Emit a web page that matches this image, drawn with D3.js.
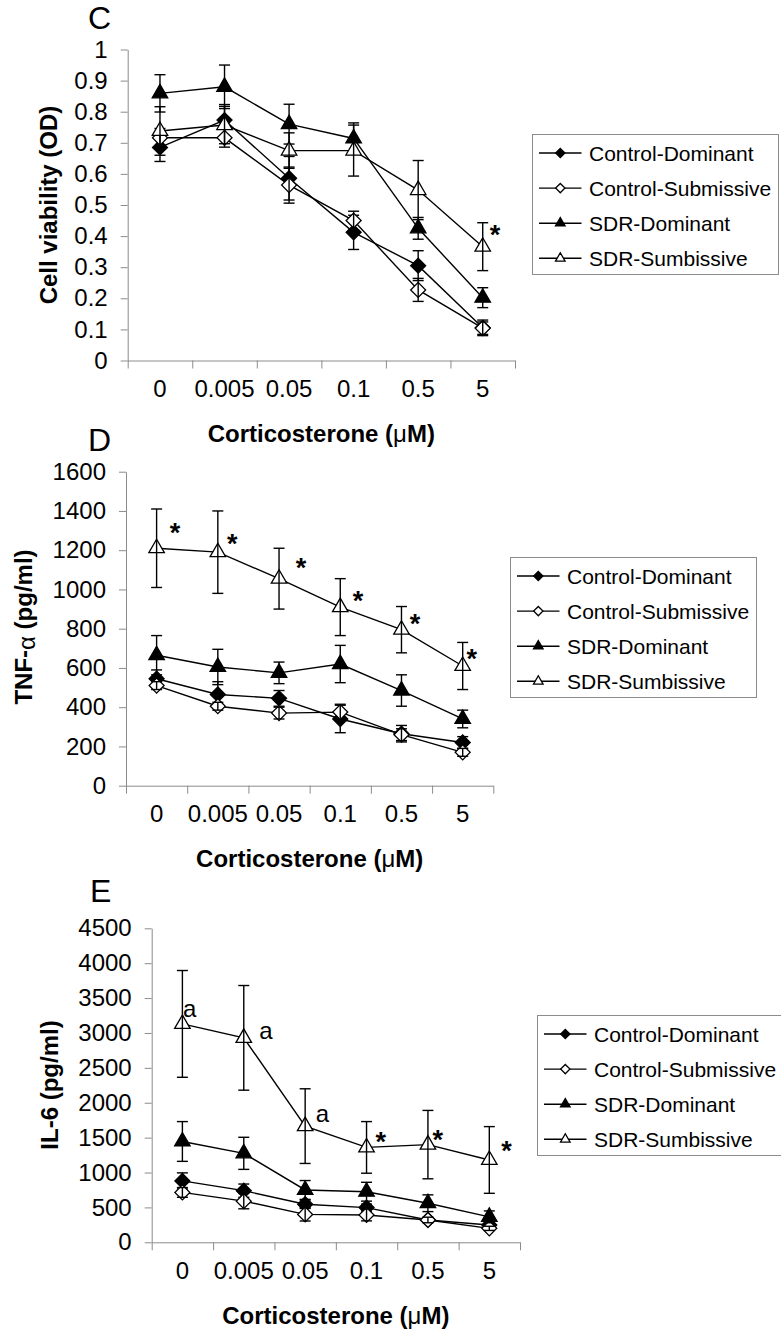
<!DOCTYPE html>
<html>
<head>
<meta charset="utf-8">
<style>
  body { margin: 0; background: #fff; }
  svg { display: block; }
</style>
</head>
<body>
<script src="https://cdn.jsdelivr.net/npm/d3@7"></script>
<script>
// Data
const doses = ["0", "0.005", "0.05", "0.1", "0.5", "5"];
const groups = ["Control-Dominant", "Control-Submissive", "SDR-Dominant", "SDR-Sumbissive"];
const shapes = ["diamond", "diamond", "triangle", "triangle"];
const filled = [true, false, true, false];

// C: cell viability (OD), mean and error per group
const viabilityMean = [
    [0.685, 0.773, 0.586, 0.412, 0.305, 0.105],
    [0.716, 0.716, 0.564, 0.450, 0.227, 0.104],
    [0.859, 0.880, 0.760, 0.714, 0.425, 0.202],
    [0.738, 0.757, 0.675, 0.675, 0.548, 0.366]
];
const viabilityErr = [
    [0.045, 0.050, 0.070, 0.055, 0.048, 0.025],
    [0.030, 0.030, 0.058, 0.030, 0.037, 0.020],
    [0.060, 0.070, 0.064, 0.050, 0.035, 0.032],
    [0.078, 0.060, 0.057, 0.082, 0.095, 0.077]
];
const viabilityTicks = [0, 0.1, 0.2, 0.3, 0.4, 0.5, 0.6, 0.7, 0.8, 0.9, 1];

// D: TNF-alpha (pg/ml)
const tnfMean = [
    [545, 465, 445, 340, 265, 220],
    [510, 405, 370, 375, 260, 170],
    [665, 605, 575, 620, 485, 340],
    [1210, 1190, 1055, 910, 795, 610]
];
const tnfErr = [
    [45, 65, 40, 70, 42, 30],
    [20, 20, 30, 40, 30, 20],
    [100, 90, 55, 95, 80, 45],
    [200, 210, 155, 145, 118, 120]
];
const tnfTicks = [0, 200, 400, 600, 800, 1000, 1200, 1400, 1600];

// E: IL-6 (pg/ml)
const il6Mean = [
    [880, 740, 545, 497, 320, 248],
    [715, 590, 400, 392, 320, 200],
    [1445, 1275, 750, 725, 560, 365],
    [3130, 2930, 1665, 1360, 1400, 1180]
];
const il6Err = [
    [115, 95, 60, 50, 30, 25],
    [70, 110, 95, 85, 40, 30],
    [285, 230, 135, 135, 120, 85],
    [765, 750, 535, 370, 490, 478]
];
const il6Ticks = [0, 500, 1000, 1500, 2000, 2500, 3000, 3500, 4000, 4500];

// significance marks: position in dose-index units and value units
const marksC = [{ at: 5.19, v: 0.422, t: "*" }];
const marksD = [
    { at: 0.30, v: 1320, t: "*" }, { at: 1.235, v: 1261, t: "*" }, { at: 2.36, v: 1141, t: "*" },
    { at: 3.29, v: 972, t: "*" }, { at: 4.22, v: 853, t: "*" }, { at: 5.15, v: 678, t: "*" }
];
const marksE = [
    { at: 0.12, v: 3319, t: "a" }, { at: 1.36, v: 2995, t: "a" }, { at: 2.28, v: 1810, t: "a" },
    { at: 3.23, v: 1523, t: "*" }, { at: 4.16, v: 1552, t: "*" }, { at: 5.28, v: 1394, t: "*" }
];

const font = "'Liberation Sans', Arial, sans-serif";
const axisGray = "#8c8c8c";

let svg = d3.select("body")
    .append("svg")
    .attr("width", 781)
    .attr("height", 1334)
    .style("font-family", font);

function drawPanel(p) {
    let x = d3.scaleBand().domain(doses).range([p.left, p.right]);
    let y = d3.scaleLinear().domain([0, p.yMax]).range([p.bottom, p.top]);
    let cx = (d) => x(d) + x.bandwidth() / 2;
    let at = d3.scaleLinear().domain([0, doses.length - 1])
        .range([cx(doses[0]), cx(doses[doses.length - 1])]);

    // panel letter
    svg.append("text").attr("x", p.letterX).attr("y", p.letterY)
        .attr("font-size", 32).text(p.letter);

    // y axis
    let gy = svg.append("g")
        .attr("transform", `translate(${p.left},0)`)
        .call(d3.axisLeft(y).tickValues(p.ticks).tickSize(7).tickPadding(13)
            .tickSizeOuter(0).tickFormat(d3.format("~g")));
    gy.select(".domain").attr("stroke", axisGray);
    gy.selectAll(".tick line").attr("stroke", axisGray);
    gy.selectAll(".tick text").attr("font-size", 24).attr("font-family", font).attr("fill", "#000");

    // x axis: marks between categories, labels under centres
    let xb = d3.scaleLinear().domain([0, doses.length]).range([p.left, p.right]);
    let gx = svg.append("g")
        .attr("transform", `translate(0,${p.bottom})`)
        .call(d3.axisBottom(xb).tickValues(d3.range(doses.length + 1))
            .tickFormat("").tickSize(8).tickSizeOuter(0));
    gx.select(".domain").attr("stroke", axisGray);
    gx.selectAll(".tick line").attr("stroke", axisGray);

    let gl = svg.append("g")
        .attr("transform", `translate(0,${p.bottom})`)
        .call(d3.axisBottom(x).tickSize(0).tickPadding(19.5));
    gl.select(".domain").remove();
    gl.selectAll(".tick text").attr("font-size", 24).attr("font-family", font).attr("fill", "#000");

    // axis titles
    let xt = svg.append("text")
        .attr("x", (p.left + p.right) / 2).attr("y", p.bottom + 81.5)
        .attr("text-anchor", "middle").attr("font-size", 24).attr("font-weight", "bold");
    xt.append("tspan").text("Corticosterone (");
    xt.append("tspan").attr("font-weight", "normal").text("\u03bc");
    xt.append("tspan").text("M)");

    let yt = svg.append("text")
        .attr("transform", `translate(${p.yTitleX},${p.yTitleY}) rotate(-90)`)
        .attr("text-anchor", "middle").attr("font-size", 24).attr("font-weight", "bold");
    p.yTitle.forEach((part) => {
        let ts = yt.append("tspan").text(part.t);
        if (part.normal) ts.attr("font-weight", "normal");
        if (part.dy) ts.attr("dy", part.dy);
    });

    // series
    groups.forEach((g, s) => {
        let pts = doses.map((d, i) => ({ d: d, v: p.means[s][i], e: p.errs[s][i] }));

        svg.append("path").datum(pts)
            .attr("d", d3.line().x((q) => cx(q.d)).y((q) => y(q.v)))
            .attr("fill", "none").attr("stroke", "#000").attr("stroke-width", 1.4);

        drawMarkers(pts.map((q) => [cx(q.d), y(q.v)]), s, 1);

        let eb = svg.append("g").selectAll("g").data(pts).enter().append("g")
            .attr("stroke", "#000").attr("stroke-width", 1.4);
        eb.append("line")
            .attr("x1", (q) => cx(q.d)).attr("x2", (q) => cx(q.d))
            .attr("y1", (q) => y(q.v - q.e)).attr("y2", (q) => y(q.v + q.e));
        [-1, 1].forEach((sign) => {
            eb.append("line")
                .attr("x1", (q) => cx(q.d) - 5.5).attr("x2", (q) => cx(q.d) + 5.5)
                .attr("y1", (q) => y(q.v + sign * q.e)).attr("y2", (q) => y(q.v + sign * q.e));
        });
    });

    // significance marks
    svg.append("g").selectAll("text").data(p.marks).enter().append("text")
        .attr("x", (m) => at(m.at))
        .attr("y", (m) => y(m.v) + (m.t === "*" ? 15 : 6))
        .attr("text-anchor", "middle")
        .attr("font-size", (m) => m.t === "*" ? 27 : 24)
        .attr("font-weight", (m) => m.t === "*" ? "bold" : "normal")
        .text((m) => m.t);

    // legend
    let lg = svg.append("g").attr("transform", `translate(${p.legendX},${p.legendY})`);
    lg.append("rect").attr("x", 0.5).attr("y", 0.5).attr("width", 246).attr("height", 140)
        .attr("fill", "#fff").attr("stroke", axisGray).attr("stroke-width", 1);
    groups.forEach((g, s) => {
        let ry = 19 + s * 35.1;
        lg.append("line").attr("x1", 7).attr("x2", 49.5).attr("y1", ry).attr("y2", ry)
            .attr("stroke", "#000").attr("stroke-width", 1.4);
        drawMarkers([[p.legendX + 28.3, p.legendY + ry]], s, 0.62);
        lg.append("text").attr("x", 57).attr("y", ry).attr("dy", "0.36em")
            .attr("font-size", 21).text(g);
    });
}

function drawMarkers(points, s, scale) {
    let sym = shapes[s] === "diamond"
        ? d3.symbol(d3.symbolSquare, 112 * scale * scale)
        : d3.symbol(d3.symbolTriangle, 104 * scale * scale);
    svg.append("g").selectAll("path").data(points).enter().append("path")
        .attr("d", sym)
        .attr("transform", (pt) => `translate(${pt[0]},${pt[1]})` + (shapes[s] === "diamond" ? " rotate(45)" : ""))
        .attr("fill", filled[s] ? "#000" : "#fff")
        .attr("stroke", "#000").attr("stroke-width", 1.3);
}

drawPanel({
    letter: "C", letterX: 88, letterY: 28.5,
    left: 127.7, right: 515, top: 49.5, bottom: 360.5,
    yMax: 1, ticks: viabilityTicks, means: viabilityMean, errs: viabilityErr, marks: marksC,
    yTitle: [{ t: "Cell viability (OD)" }], yTitleX: 57, yTitleY: 205,
    legendX: 532, legendY: 134
});

drawPanel({
    letter: "D", letterX: 88, letterY: 450.5,
    left: 126, right: 493.3, top: 471.7, bottom: 785.7,
    yMax: 1600, ticks: tnfTicks, means: tnfMean, errs: tnfErr, marks: marksD,
    yTitle: [{ t: "TNF-" }, { t: "\u03b1", normal: true, dy: 3 }, { t: "  (pg/ml)", dy: -3 }],
    yTitleX: 32, yTitleY: 627,
    legendX: 510, legendY: 557
});

drawPanel({
    letter: "E", letterX: 90, letterY: 902,
    left: 151.7, right: 520, top: 928.3, bottom: 1242.3,
    yMax: 4500, ticks: il6Ticks, means: il6Mean, errs: il6Err, marks: marksE,
    yTitle: [{ t: "IL-6 (pg/ml)" }], yTitleX: 57.5, yTitleY: 1085,
    legendX: 537, legendY: 1015
});
</script>
</body>
</html>
